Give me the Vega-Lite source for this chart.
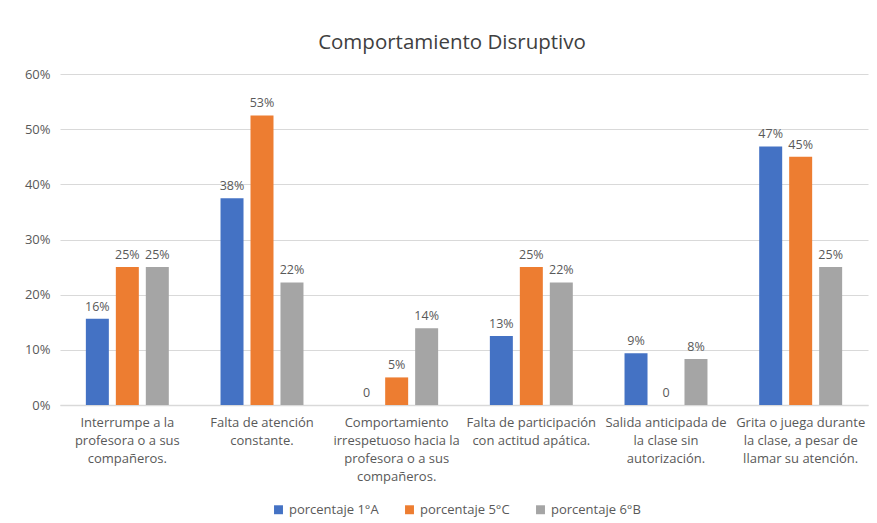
{
  "$schema": "https://vega.github.io/schema/vega-lite/v6.json",
  "width": 808,
  "height": 331,
  "autosize": {"type": "none"},
  "padding": {"left": 60, "top": 74, "right": 9, "bottom": 118},
  "background": "white",
  "title": {
    "text": "Comportamiento Disruptivo",
    "font": "Open Sans",
    "fontSize": 20.5,
    "fontWeight": "normal",
    "color": "#404040",
    "anchor": "middle",
    "dx": -12,
    "offset": 15
  },
  "data": {
    "values": [
      {"cat": "Interrumpe a la profesora o a sus compañeros.", "grupo": "porcentaje 1°A", "valor": 0.15625},
      {"cat": "Interrumpe a la profesora o a sus compañeros.", "grupo": "porcentaje 5°C", "valor": 0.25},
      {"cat": "Interrumpe a la profesora o a sus compañeros.", "grupo": "porcentaje 6°B", "valor": 0.25},
      {"cat": "Falta de atención constante.", "grupo": "porcentaje 1°A", "valor": 0.375},
      {"cat": "Falta de atención constante.", "grupo": "porcentaje 5°C", "valor": 0.525},
      {"cat": "Falta de atención constante.", "grupo": "porcentaje 6°B", "valor": 0.2222},
      {"cat": "Comportamiento irrespetuoso hacia la profesora o a sus compañeros.", "grupo": "porcentaje 1°A", "valor": 0},
      {"cat": "Comportamiento irrespetuoso hacia la profesora o a sus compañeros.", "grupo": "porcentaje 5°C", "valor": 0.05},
      {"cat": "Comportamiento irrespetuoso hacia la profesora o a sus compañeros.", "grupo": "porcentaje 6°B", "valor": 0.1389},
      {"cat": "Falta de participación con actitud apática.", "grupo": "porcentaje 1°A", "valor": 0.125},
      {"cat": "Falta de participación con actitud apática.", "grupo": "porcentaje 5°C", "valor": 0.25},
      {"cat": "Falta de participación con actitud apática.", "grupo": "porcentaje 6°B", "valor": 0.2222},
      {"cat": "Salida anticipada de la clase sin autorización.", "grupo": "porcentaje 1°A", "valor": 0.09375},
      {"cat": "Salida anticipada de la clase sin autorización.", "grupo": "porcentaje 5°C", "valor": 0},
      {"cat": "Salida anticipada de la clase sin autorización.", "grupo": "porcentaje 6°B", "valor": 0.0833},
      {"cat": "Grita o juega durante la clase, a pesar de llamar su atención.", "grupo": "porcentaje 1°A", "valor": 0.46875},
      {"cat": "Grita o juega durante la clase, a pesar de llamar su atención.", "grupo": "porcentaje 5°C", "valor": 0.45},
      {"cat": "Grita o juega durante la clase, a pesar de llamar su atención.", "grupo": "porcentaje 6°B", "valor": 0.25}
    ]
  },
  "transform": [
    {"calculate": "datum.valor == 0 ? '0' : format(datum.valor, '.0%')", "as": "etiqueta"}
  ],
  "encoding": {
    "x": {
      "field": "cat",
      "type": "nominal",
      "sort": null,
      "title": null,
      "scale": {"paddingInner": 0.384, "paddingOuter": 0.192},
      "axis": {
        "labelAngle": 0,
        "ticks": false,
        "domainColor": "#d9d9d9",
        "domainWidth": 1.5,
        "labelFont": "Open Sans",
        "labelFontSize": 13,
        "labelColor": "#595959",
        "labelPadding": 11,
        "labelLineHeight": 18.3,
        "labelBaseline": "top",
        "labelExpr": "datum.value == 'Interrumpe a la profesora o a sus compañeros.' ? ['Interrumpe a la', 'profesora o a sus', 'compañeros.'] : datum.value == 'Falta de atención constante.' ? ['Falta de atención', 'constante.'] : datum.value == 'Comportamiento irrespetuoso hacia la profesora o a sus compañeros.' ? ['Comportamiento', 'irrespetuoso hacia la', 'profesora o a sus', 'compañeros.'] : datum.value == 'Falta de participación con actitud apática.' ? ['Falta de participación', 'con actitud apática.'] : datum.value == 'Salida anticipada de la clase sin autorización.' ? ['Salida anticipada de', 'la clase sin', 'autorización.'] : ['Grita o juega durante', 'la clase, a pesar de', 'llamar su atención.']"
      }
    },
    "xOffset": {
      "field": "grupo",
      "type": "nominal",
      "scale": {"paddingInner": 0.233, "paddingOuter": 0}
    },
    "y": {
      "field": "valor",
      "type": "quantitative",
      "title": null,
      "scale": {"domain": [0, 0.6]},
      "axis": {
        "format": ".0%",
        "values": [0, 0.1, 0.2, 0.3, 0.4, 0.5, 0.6],
        "labelOverlap": false,
        "domain": false,
        "ticks": false,
        "gridColor": "#d9d9d9",
        "gridWidth": 1.2,
        "labelFont": "Open Sans",
        "labelFontSize": 13,
        "labelColor": "#595959",
        "labelPadding": 10
      }
    }
  },
  "layer": [
    {
      "mark": {"type": "bar"},
      "encoding": {
        "color": {
          "field": "grupo",
          "type": "nominal",
          "title": null,
          "scale": {
            "domain": ["porcentaje 1°A", "porcentaje 5°C", "porcentaje 6°B"],
            "range": ["#4472C4", "#ED7D31", "#A5A5A5"]
          },
          "legend": {
            "orient": "none",
            "legendX": 212,
            "legendY": 429,
            "direction": "horizontal",
            "symbolType": "square",
            "symbolSize": 80,
            "symbolStrokeWidth": 0,
            "labelFont": "Open Sans",
            "labelFontSize": 13,
            "labelColor": "#595959",
            "columnPadding": 24
          }
        }
      }
    },
    {
      "mark": {
        "type": "text",
        "baseline": "bottom",
        "dy": -5,
        "font": "Open Sans",
        "fontSize": 12.5,
        "color": "#595959"
      },
      "encoding": {
        "text": {"field": "etiqueta", "type": "nominal"}
      }
    }
  ],
  "config": {
    "view": {"stroke": null}
  }
}
